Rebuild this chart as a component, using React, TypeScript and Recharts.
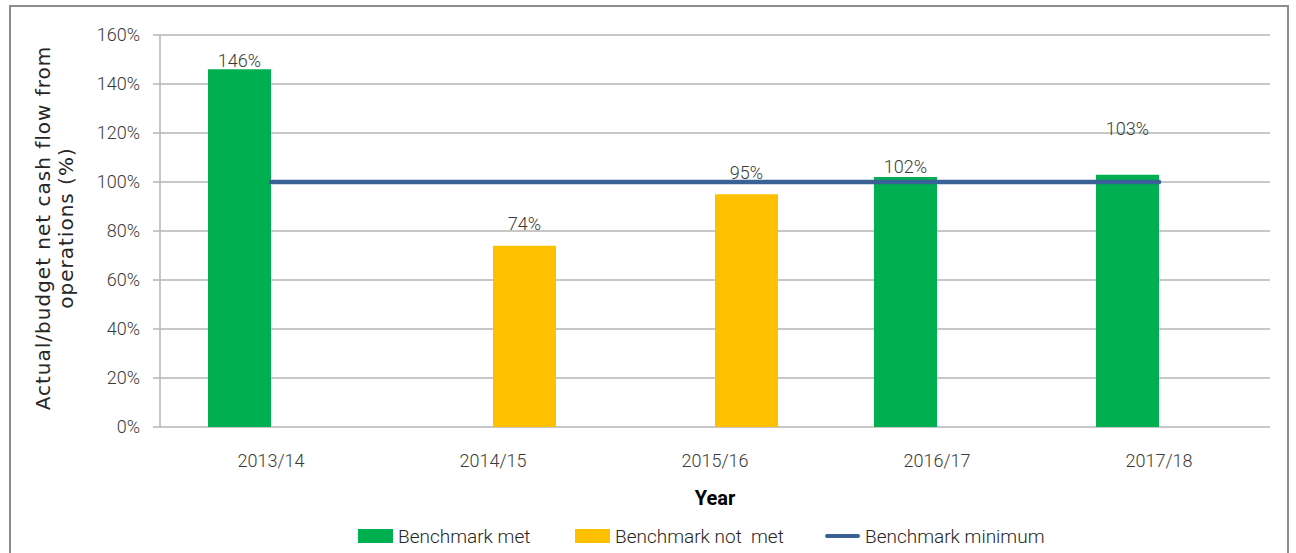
import React from 'react';
import { ComposedChart, Bar, Line, XAxis, YAxis, CartesianGrid, Legend, LabelList } from 'recharts';

const years = ['2013/14', '2014/15', '2015/16', '2016/17', '2017/18'];
const benchmarkMet = [146, null, null, 102, 103];
const benchmarkNotMet = [null, 74, 95, null, null];
const benchmarkMinimum = [100, 100, 100, 100, 100];
const yTicks = [0, 20, 40, 60, 80, 100, 120, 140, 160];
const boundaryTicks = [0, 1, 2, 3, 4, 5];

// extra space between bar top and its value label, per year (as placed in the original)
const labelGap = [2, 16, 15, 4, 40];

const GREEN = '#00B050';
const AMBER = '#FFC000';
const NAVY = '#3A6196';
const GRID = '#B4B4B4';
const TEXT = '#3A3A3A';
const NARROW = "Roboto, 'DejaVu Sans Condensed', sans-serif";

const data = years.map((year, i) => ({
  year,
  met: benchmarkMet[i],
  notMet: benchmarkNotMet[i],
  minimum: benchmarkMinimum[i],
}));

const ValueLabel = (props: any) => {
  const { x, y, width, value, series } = props;
  if (value == null) return null;
  const idx = series.indexOf(value);
  return (
    <text
      x={Number(x) + Number(width) / 2}
      y={Number(y) - (labelGap[idx] ?? 2)}
      textAnchor="middle"
      fill={TEXT}
      fontSize={18}
      fontWeight={300}
      fontFamily={NARROW}
    >
      {value}%
    </text>
  );
};

const YTitle = (props: any) => {
  const vb = props.viewBox || { x: 0, y: 35, width: 160, height: 392 };
  const cx = vb.x + 50;
  const cy = vb.y + vb.height / 2 - 3;
  return (
    <text
      x={cx}
      y={cy}
      transform={`rotate(-90, ${cx}, ${cy})`}
      textAnchor="middle"
      fill="#262626"
      fontSize={20}
      letterSpacing={1}
      fontFamily="'DejaVu Sans', sans-serif"
    >
      <tspan x={cx} dy={0}>Actual/budget net cash flow from</tspan>
      <tspan x={cx} dy={23}>operations (%)</tspan>
    </text>
  );
};

const LegendBox = () => {
  const item = (w: number): React.CSSProperties => ({ display: 'flex', alignItems: 'center', width: w });
  const label: React.CSSProperties = {
    marginLeft: 5,
    fontSize: 19,
    fontWeight: 300,
    color: '#262626',
    fontFamily: NARROW,
    whiteSpace: 'pre',
  };
  return (
    <div style={{ display: 'flex', alignItems: 'center', height: 30, paddingLeft: 358 }}>
      <div style={item(217)}>
        <span style={{ width: 35, height: 14, background: GREEN, display: 'inline-block' }} />
        <span style={label}>Benchmark met</span>
      </div>
      <div style={item(250)}>
        <span style={{ width: 35, height: 14, background: AMBER, display: 'inline-block' }} />
        <span style={label}>Benchmark not  met</span>
      </div>
      <div style={item(240)}>
        <span style={{ width: 35, height: 4, borderRadius: 2, background: NAVY, display: 'inline-block' }} />
        <span style={label}>Benchmark minimum</span>
      </div>
    </div>
  );
};

export default function App() {
  return (
    <div style={{ position: 'absolute', left: 0, top: 0, width: 1296, height: 553, overflow: 'hidden', background: '#fff' }}>
      <div
        style={{
          position: 'absolute',
          left: 9,
          top: 5,
          width: 1276,
          height: 600,
          border: '2px solid #8C8C8C',
        }}
      />
      <ComposedChart
        width={1296}
        height={553}
        data={data}
        margin={{ top: 35, right: 26, bottom: 2, left: 0 }}
        barSize={63}
        barGap={0}
        style={{ position: 'absolute', left: 0, top: 0 }}
      >
        <CartesianGrid vertical={false} stroke={GRID} strokeWidth={1.5} />
        <XAxis
          xAxisId="bounds"
          type="number"
          domain={[0, 5]}
          ticks={boundaryTicks}
          tick={false}
          tickSize={6}
          height={0}
          stroke={GRID}
          axisLine={{ stroke: GRID, strokeWidth: 1.5 }}
          tickLine={{ stroke: GRID, strokeWidth: 1.5 }}
        />
        <XAxis
          dataKey="year"
          height={94}
          axisLine={false}
          tickLine={false}
          tickSize={6}
          tickMargin={21}
          tick={{ fill: TEXT, fontSize: 18, fontWeight: 300, fontFamily: NARROW }}
          label={{
            value: 'Year',
            position: 'insideBottom',
            offset: 16,
            fill: '#000',
            fontSize: 20,
            fontWeight: 'bold',
            fontFamily: NARROW,
          }}
        />
        <YAxis
          width={160}
          domain={[0, 160]}
          ticks={yTicks}
          interval={0}
          tickFormatter={(v: number) => `${v}%`}
          tickSize={7}
          tickMargin={13}
          axisLine={{ stroke: GRID, strokeWidth: 1.5 }}
          tickLine={{ stroke: GRID, strokeWidth: 1.5 }}
          tick={{ fill: TEXT, fontSize: 18, fontWeight: 300, fontFamily: NARROW }}
          label={{ content: (p: any) => <YTitle {...p} /> }}
        />
        <Legend verticalAlign="bottom" content={() => <LegendBox />} wrapperStyle={{ left: 0, width: 1296 }} />
        <Bar dataKey="met" name="Benchmark met" fill={GREEN} isAnimationActive={false}>
          <LabelList dataKey="met" content={(p: any) => <ValueLabel {...p} series={benchmarkMet} />} />
        </Bar>
        <Bar dataKey="notMet" name="Benchmark not  met" fill={AMBER} isAnimationActive={false}>
          <LabelList dataKey="notMet" content={(p: any) => <ValueLabel {...p} series={benchmarkNotMet} />} />
        </Bar>
        <Line
          dataKey="minimum"
          name="Benchmark minimum"
          type="linear"
          stroke={NAVY}
          strokeWidth={4.5}
          strokeLinecap="round"
          dot={false}
          activeDot={false}
          isAnimationActive={false}
        />
      </ComposedChart>
    </div>
  );
}
